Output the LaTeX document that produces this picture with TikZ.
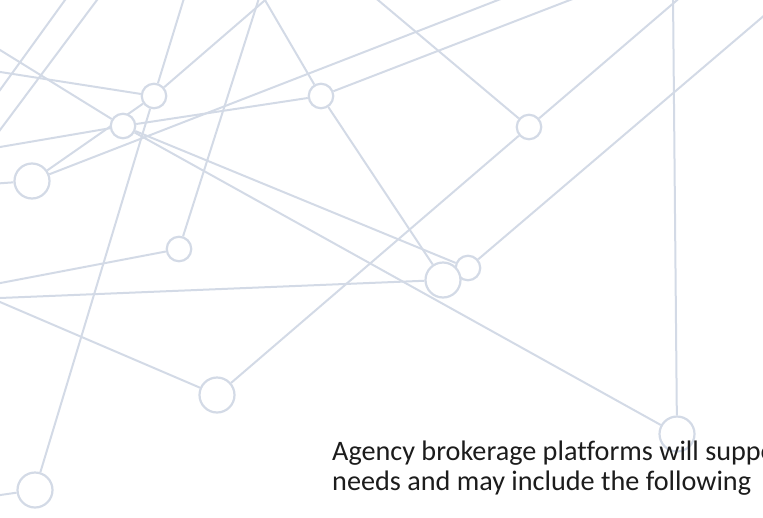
\documentclass[tikz,border=0pt]{standalone}
\usepackage{fontspec}
\setmainfont[Ligatures=CommonOff]{Carlito}
\usetikzlibrary{backgrounds}
\definecolor{linec}{HTML}{D3DAE6}
\definecolor{textc}{HTML}{1C1C1C}
\begin{document}
\begin{tikzpicture}[x=1pt,y=-1pt,
  ln/.style={draw=linec, line width=2pt},
  sm/.style={circle, draw=linec, line width=2.2pt, fill=white, minimum size=24.5pt, inner sep=0pt},
  lg/.style={circle, draw=linec, line width=2.2pt, fill=white, minimum size=35pt, inner sep=0pt},
  txt/.style={font=\fontsize{28.2}{30}\selectfont, text=textc, anchor=base west, inner sep=0pt}]
\useasboundingbox (0,0) rectangle (763,517);
\clip (0,0) rectangle (763,517);
% nodes
\node[sm] (A) at (154,96) {};
\node[sm] (B) at (123,126) {};
\node[lg] (C) at (32,181) {};
\node[sm] (D) at (321,96) {};
\node[sm] (E) at (529,127) {};
\node[sm] (F) at (179,249) {};
\node[sm] (H) at (468,268) {};
\node[lg] (G) at (443,280) {};
\node[lg] (I) at (217,395) {};
\node[lg] (J) at (35,490) {};
\node[lg] (K) at (677,434) {};
% free ends
\coordinate (t1a) at (70,-6.9);  \coordinate (t1b) at (-5,96.9);
\coordinate (t2a) at (102,-6.7); \coordinate (t2b) at (-5,136.7);
\coordinate (Al) at (-10,70.4);
\coordinate (Bl1) at (-10,43.8);
\coordinate (Bl2) at (-10,148.7);
\coordinate (Cl) at (-10,184);
\coordinate (At1) at (185,-5);
\coordinate (At2) at (271,-5);
\coordinate (Dt1) at (262,-5);
\coordinate (Ft) at (260,-5);
\coordinate (Ct) at (511,-5);
\coordinate (Dt2) at (583,-5);
\coordinate (Et1) at (372,-5);
\coordinate (Et2) at (683,-5);
\coordinate (Hr) at (773,8);
\coordinate (Kt) at (673,-5);
\coordinate (Fl) at (-10,285);
\coordinate (Gl) at (-10,298.4);
\coordinate (Il) at (-10,297.7);
\coordinate (Jl) at (-10,496.5);
\begin{scope}[on background layer]
\draw[ln] (t1a) -- (t1b);
\draw[ln] (t2a) -- (t2b);
\draw[ln] (A) -- (Al);
\draw[ln] (B) -- (Bl1);
\draw[ln] (B) -- (Bl2);
\draw[ln] (C) -- (Cl);
\draw[ln] (A) -- (At1);
\draw[ln] (A) -- (At2);
\draw[ln] (D) -- (Dt1);
\draw[ln] (F) -- (Ft);
\draw[ln] (C) -- (Ct);
\draw[ln] (D) -- (Dt2);
\draw[ln] (E) -- (Et1);
\draw[ln] (E) -- (Et2);
\draw[ln] (H) -- (Hr);
\draw[ln] (K) -- (Kt);
\draw[ln] (F) -- (Fl);
\draw[ln] (G) -- (Gl);
\draw[ln] (I) -- (Il);
\draw[ln] (J) -- (Jl);
\draw[ln] (A) -- (C);
\draw[ln] (A) -- (J);
\draw[ln] (B) -- (D);
\draw[ln] (B) -- (H);
\draw[ln] (B) -- (K);
\draw[ln] (D) -- (G);
\draw[ln] (E) -- (I);
\end{scope}
\node[txt] (t1) at (332,460) {Agency brokerage platforms will support};
\node[txt] (t2) at (332,490) {needs and may include the following};
\end{tikzpicture}
\end{document}
